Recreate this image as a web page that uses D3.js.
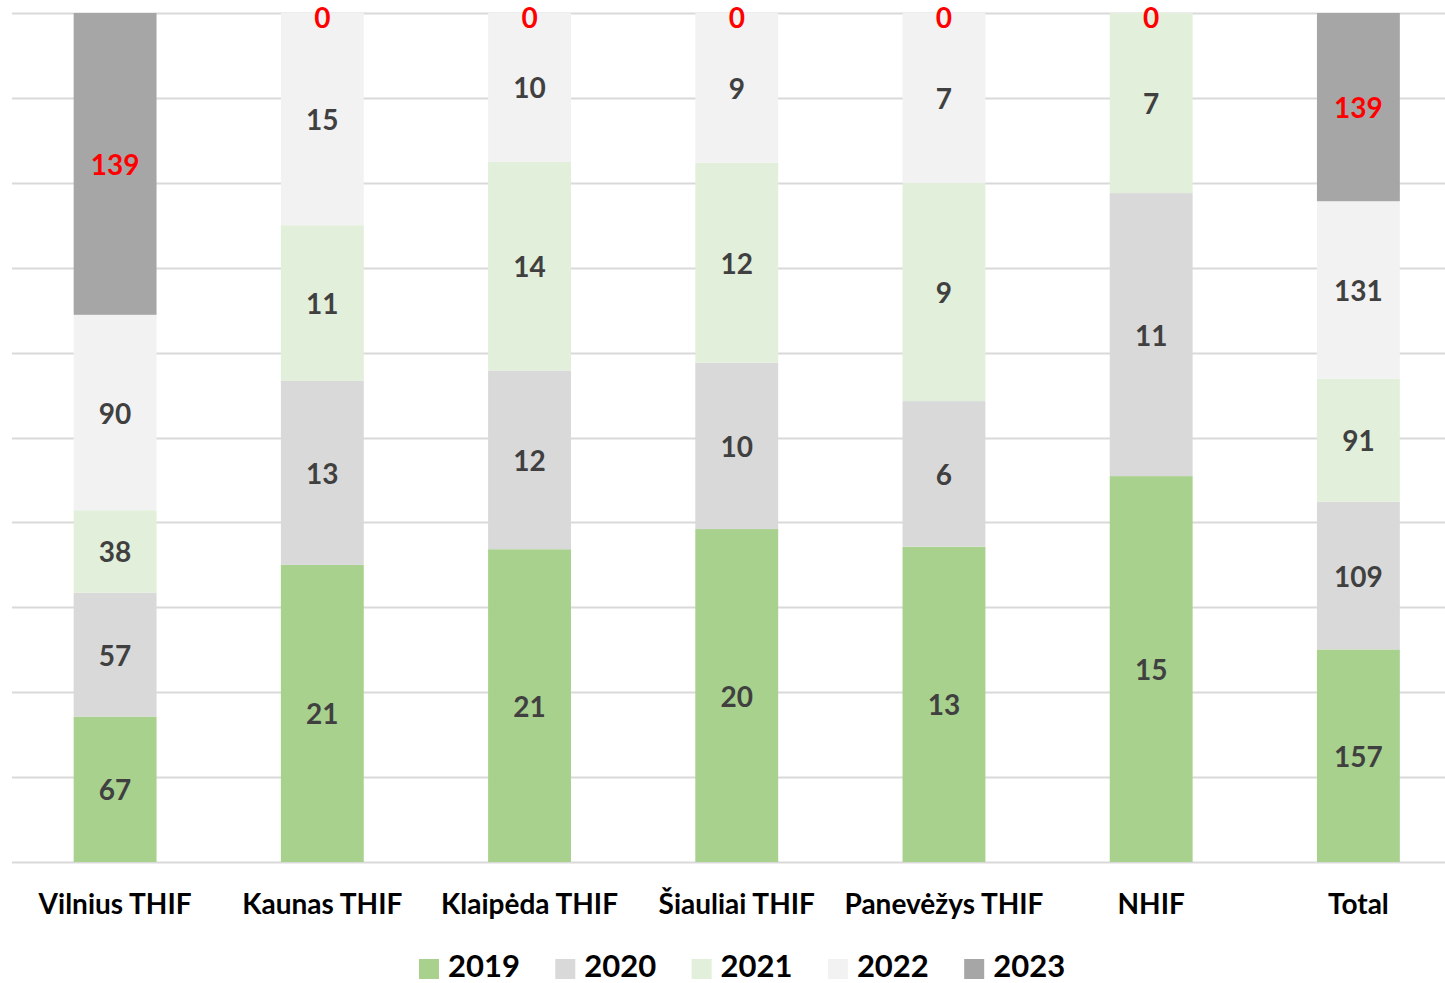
<!DOCTYPE html>
<html>
<head>
<meta charset="utf-8">
<script src="https://cdn.jsdelivr.net/npm/d3@7"></script>
<style>
  body { margin: 0; background: #fff; }
  text { font-family: Lato, "Open Sans", sans-serif; font-weight: bold; }
</style>
</head>
<body>
<script>
// Chart data
const categories = ['Vilnius THIF', 'Kaunas THIF', 'Klaipėda THIF', 'Šiauliai THIF', 'Panevėžys THIF', 'NHIF', 'Total'];
const years = ['2019', '2020', '2021', '2022', '2023'];
const v2019 = [67, 21, 21, 20, 13, 15, 157];
const v2020 = [57, 13, 12, 10, 6, 11, 109];
const v2021 = [38, 11, 14, 12, 9, 7, 91];
const v2022 = [90, 15, 10, 9, 7, null, 131];
const v2023 = [139, 0, 0, 0, 0, 0, 139];
const colors = ['#A9D18E', '#D9D9D9', '#E2EFDA', '#F2F2F2', '#A6A6A6'];

const W = 1445, H = 983;
const series = [v2019, v2020, v2021, v2022, v2023];

const svg = d3.select('body').append('svg')
  .attr('width', W)
  .attr('height', H);

const x = d3.scaleBand().domain(categories).range([11.5, 1462]).paddingInner(0.6).paddingOuter(0.3);
const y = d3.scaleLinear().domain([0, 1]).range([862, 13]);
const color = d3.scaleOrdinal().domain(years).range(colors);

// gridlines
svg.append('g').selectAll('line')
  .data(d3.range(0, 1.0001, 0.1))
  .enter().append('line')
  .attr('x1', 12).attr('x2', W)
  .attr('y1', d => Math.round(y(d)) + 0.5)
  .attr('y2', d => Math.round(y(d)) + 0.5)
  .style('stroke', '#D9D9D9')
  .style('stroke-width', 2);

// build rows and stack as share of total
const rows = categories.map((c, i) => {
  const r = { cat: c };
  let tot = 0;
  years.forEach((yr, j) => { r[yr] = series[j][i] || 0; tot += r[yr]; });
  r.total = tot;
  return r;
});
const stacked = d3.stack().keys(years)
  .value((d, k) => d[k] / d.total)(rows);

const layers = svg.selectAll('.layer')
  .data(stacked)
  .enter().append('g')
  .attr('class', 'layer')
  .style('fill', d => color(d.key));

layers.selectAll('rect')
  .data(d => d)
  .enter().append('rect')
  .attr('x', d => x(d.data.cat))
  .attr('width', x.bandwidth())
  .attr('y', d => y(d[1]))
  .attr('height', d => y(d[0]) - y(d[1]));

// data labels (baseline kept low enough so top labels are not cut)
stacked.forEach((layer, j) => {
  svg.append('g').selectAll('text')
    .data(layer.filter((d, i) => series[j][i] !== null))
    .enter().append('text')
    .attr('x', d => x(d.data.cat) + x.bandwidth() / 2)
    .attr('y', d => Math.max((y(d[0]) + y(d[1])) / 2 + 11, 28))
    .attr('text-anchor', 'middle')
    .style('font-size', '28px')
    .style('fill', layer.key === '2023' ? '#FF0000' : '#404040')
    .text(d => d.data[layer.key]);
});

// x axis labels
const xAxis = d3.axisBottom(x).tickSize(0).tickPadding(0);
const gx = svg.append('g')
  .attr('transform', 'translate(0,' + 904 + ')')
  .call(xAxis);
gx.select('.domain').remove();
gx.selectAll('text')
  .attr('dy', '0.35em')
  .style('font-size', '28px')
  .style('fill', '#000');

// legend
const legend = svg.append('g');
years.forEach((yr, j) => {
  const lx = 419 + j * 136.3;
  legend.append('rect')
    .attr('x', lx).attr('y', 959)
    .attr('width', 20).attr('height', 20)
    .style('fill', color(yr));
  legend.append('text')
    .attr('x', lx + 29).attr('y', 977)
    .style('font-size', '31px')
    .style('fill', '#000')
    .text(yr);
});
</script>
</body>
</html>
